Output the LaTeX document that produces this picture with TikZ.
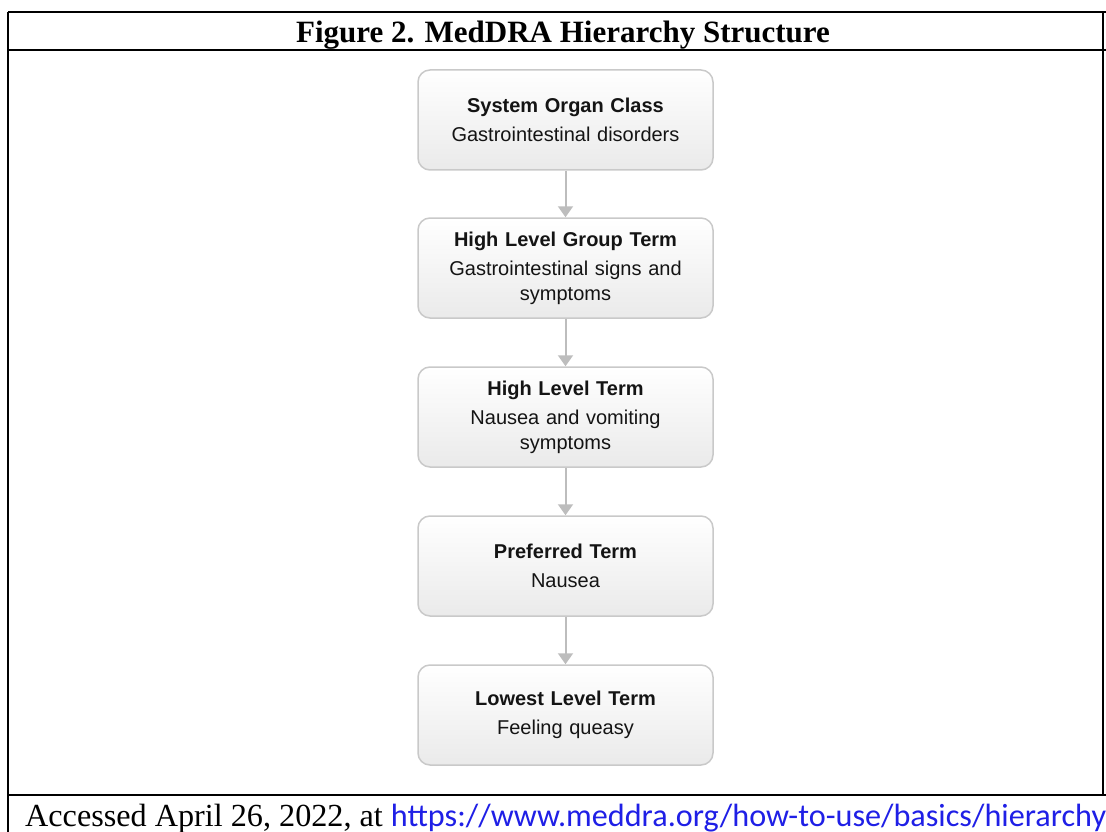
\documentclass[tikz,border=0pt]{standalone}
\usepackage{fontspec}
\setmainfont{Liberation Serif}
\newfontfamily\arialfont{Liberation Sans}
\newfontfamily\linkfont{Carlito}
\usepackage{tikz}
\usetikzlibrary{arrows.meta,positioning}
\definecolor{Frame}{HTML}{000000}
\definecolor{BoxLine}{HTML}{C9C9C9}
\definecolor{BoxShade}{HTML}{EAEAEA}
\definecolor{Connector}{HTML}{BDBDBD}
\definecolor{Link}{HTML}{1F1FE6}
\definecolor{Ink}{HTML}{141414}

\begin{document}
\begin{tikzpicture}[x=1pt,y=-1pt,
  frame/.style={draw=Frame,line width=2pt},
  level/.style={rounded corners=12pt,draw=BoxLine,line width=1.5pt,top color=white,bottom color=BoxShade,minimum width=295pt,minimum height=100pt,text width=270pt,align=center,text=Ink,font=\arialfont\fontsize{20}{25}\selectfont},
  arrow/.style={-{Triangle[length=11pt,width=15pt]},line width=2pt,draw=Connector}
]
\useasboundingbox (0,0) rectangle (1106,832);
% table frame
\draw[frame] (8,12) -- (1106,12);
\draw[frame] (8,50) -- (1106,50);
\draw[frame] (8,795) -- (1106,795);
\draw[frame] (8,12) -- (8,832);
\draw[frame] (1103,12) -- (1103,795);
\node[font=\bfseries\fontsize{31}{36}\selectfont,anchor=base] (title) at (563,42.5) {Figure 2. MedDRA Hierarchy Structure};
% hierarchy
\node[level] (soc) at (565.5,120) {\textbf{System Organ Class}\\[4pt]Gastrointestinal disorders};
\node[level] (hlgt) at (565.5,268) {\textbf{High Level Group Term}\\[4pt]Gastrointestinal signs and\\symptoms};
\node[level] (hlt) at (565.5,417) {\textbf{High Level Term}\\[4pt]Nausea and vomiting\\symptoms};
\node[level] (pt) at (565.5,566) {\textbf{Preferred Term}\\[4pt]Nausea};
\node[level] (llt) at (565.5,715) {\textbf{Lowest Level Term}\\[4pt]Feeling queasy};
\draw[arrow] (soc) -- (hlgt);
\draw[arrow] (hlgt) -- (hlt);
\draw[arrow] (hlt) -- (pt);
\draw[arrow] (pt) -- (llt);
% source line
\node[font=\fontsize{32.2}{36}\selectfont,anchor=base west,inner sep=0pt] (src) at (25,826) {Accessed April 26, 2022, at {\linkfont\color{Link}https://www.meddra.org/how-to-use/basics/hierarchy}};
\end{tikzpicture}
\end{document}
